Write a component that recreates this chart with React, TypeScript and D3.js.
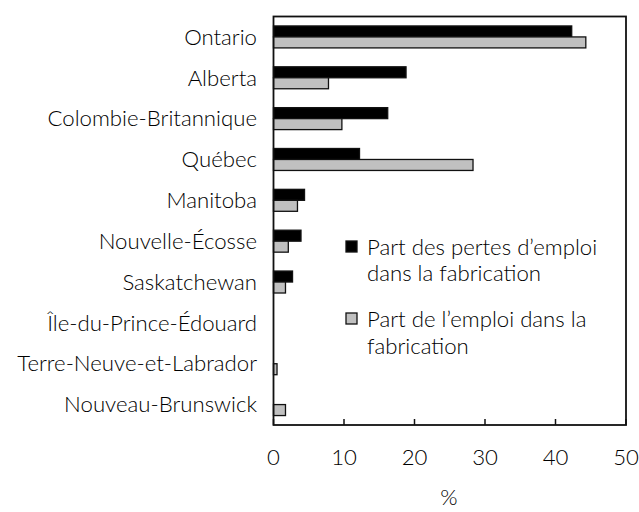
import React from "react";
import * as d3 from "d3";

const provinces = [
  "Ontario",
  "Alberta",
  "Colombie-Britannique",
  "Québec",
  "Manitoba",
  "Nouvelle-Écosse",
  "Saskatchewan",
  "Île-du-Prince-Édouard",
  "Terre-Neuve-et-Labrador",
  "Nouveau-Brunswick",
];
const jobLossShare = [42.3, 18.8, 16.2, 12.2, 4.4, 3.9, 2.7, 0, 0, 0];
const employmentShare = [44.3, 7.8, 9.7, 28.3, 3.4, 2.1, 1.7, 0, 0.5, 1.7];
const xTicks = [0, 10, 20, 30, 40, 50];
const seriesKeys = ["loss", "emp"];
const legendLoss = ["Part des pertes d’emploi", "dans la fabrication"];
const legendEmp = ["Part de l’emploi dans la", "fabrication"];
const axisTitle = "%";

const W = 639;
const H = 512;
const M = { left: 273.5, right: 626, top: 16.5, bottom: 425 };
const FONT = "Lato, 'DejaVu Sans', sans-serif";
const FS = 22.2;
const FW = 300;
const GRAY = "#c0c0c0";

export default function App() {
  const x = d3.scaleLinear().domain([0, 50]).range([M.left, M.right]);
  const y = d3.scaleBand<string>().domain(provinces).range([M.top, M.bottom]);
  const sub = d3
    .scaleBand<string>()
    .domain(seriesKeys)
    .range([0, y.bandwidth()])
    .paddingOuter(0.86)
    .paddingInner(0);

  const fills: Record<string, string> = { loss: "#000", emp: GRAY };
  const values: Record<string, number[]> = { loss: jobLossShare, emp: employmentShare };

  return (
    <svg
      width={W}
      height={H}
      style={{ position: "absolute", left: 0, top: 0 }}
      fontFamily={FONT}
      fontWeight={FW}
    >
      <rect x={0} y={0} width={W} height={H} fill="#fff" />
      {provinces.map((p, i) =>
        seriesKeys.map((k) => {
          const v = values[k][i];
          if (v <= 0) return null;
          return (
            <rect
              key={p + k}
              x={x(0)}
              y={(y(p) as number) + (sub(k) as number)}
              width={x(v) - x(0)}
              height={sub.bandwidth()}
              fill={fills[k]}
              stroke="#111"
              strokeWidth={1.3}
            />
          );
        })
      )}
      {/* frame */}
      <rect
        x={M.left}
        y={M.top}
        width={M.right - M.left}
        height={M.bottom - M.top}
        fill="none"
        stroke="#111"
        strokeWidth={1.8}
      />
      {xTicks.map((t) => (
        <g key={t}>
          <line x1={x(t)} x2={x(t)} y1={M.bottom} y2={M.bottom - 6} stroke="#111" strokeWidth={1.5} />
          <text x={x(t)} y={465} textAnchor="middle" fontSize={FS} fill="#000">
            {t}
          </text>
        </g>
      ))}
      {provinces.map((p) => (
        <text
          key={p}
          x={257}
          y={(y(p) as number) + y.bandwidth() / 2}
          dy="0.35em"
          textAnchor="end"
          fontSize={FS}
          fill="#000"
        >
          {p}
        </text>
      ))}
      <text x={449} y={505} textAnchor="middle" fontSize={FS} fill="#000">
        {axisTitle}
      </text>
      {/* legend */}
      <rect x={346} y={241} width={11} height={11} fill="#000" stroke="#111" strokeWidth={1.3} />
      {legendLoss.map((l, i) => (
        <text key={l} x={367} y={255 + i * 26} fontSize={FS} fill="#000">
          {l}
        </text>
      ))}
      <rect x={346} y={313} width={11} height={11} fill={GRAY} stroke="#111" strokeWidth={1.3} />
      {legendEmp.map((l, i) => (
        <text key={l} x={367} y={327 + i * 27} fontSize={FS} fill="#000">
          {l}
        </text>
      ))}
    </svg>
  );
}
